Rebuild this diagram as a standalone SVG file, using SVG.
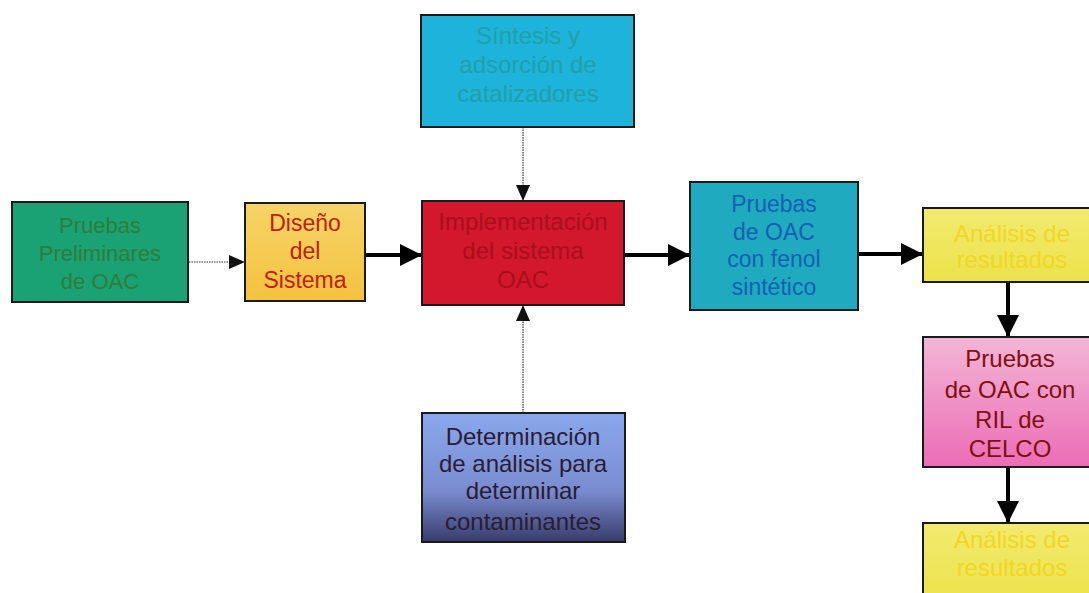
<svg xmlns="http://www.w3.org/2000/svg" width="1089" height="593" viewBox="0 0 1089 593">
<style>
.box{stroke:#1a1a1a;stroke-width:2}
.t{font-family:"Liberation Sans",Arial,sans-serif;font-size:24px;text-anchor:middle}
.thick{stroke:#000;stroke-width:4;fill:none}
.dot{stroke:#333;stroke-width:1.2;stroke-dasharray:1.5 1;fill:none}
</style>
<defs>
<marker id="big" markerUnits="userSpaceOnUse" markerWidth="22" markerHeight="22" refX="21" refY="11" orient="auto"><path d="M0,0 L22,11 L0,22 Z" fill="#000"/></marker>
<marker id="small" markerUnits="userSpaceOnUse" markerWidth="16" markerHeight="14" refX="15" refY="7" orient="auto"><path d="M0,0 L16,7 L0,14 Z" fill="#111"/></marker>
<linearGradient id="gYel" x1="0" y1="0" x2="0" y2="1"><stop offset="0" stop-color="#f6d468"/><stop offset="1" stop-color="#f4c23e"/></linearGradient>
<linearGradient id="gAn" x1="0" y1="0" x2="0" y2="1"><stop offset="0" stop-color="#f2ea70"/><stop offset="1" stop-color="#ece24a"/></linearGradient>
<linearGradient id="gPink" x1="0" y1="0" x2="0" y2="1"><stop offset="0" stop-color="#f3b6d6"/><stop offset="1" stop-color="#ec6cb6"/></linearGradient>
<linearGradient id="gBlue" x1="0" y1="0" x2="0" y2="1"><stop offset="0" stop-color="#8aa8ec"/><stop offset="0.6" stop-color="#7a8cd0"/><stop offset="1" stop-color="#383c6c"/></linearGradient>
</defs>

<g id="connectors">
<line class="dot" x1="189" y1="262" x2="244" y2="262" marker-end="url(#small)"/>
<line class="thick" x1="366" y1="255" x2="421" y2="255" marker-end="url(#big)"/>
<line class="dot" x1="523" y1="127" x2="523" y2="200" marker-end="url(#small)"/>
<line class="dot" x1="523" y1="413" x2="523" y2="306" marker-end="url(#small)"/>
<line class="thick" x1="625" y1="255" x2="689" y2="255" marker-end="url(#big)"/>
<line class="thick" x1="859" y1="254" x2="922" y2="254" marker-end="url(#big)"/>
<line class="thick" x1="1008" y1="283" x2="1008" y2="336" marker-end="url(#big)"/>
<line class="thick" x1="1008" y1="468" x2="1008" y2="522" marker-end="url(#big)"/>
</g>

<g id="n-preliminares">
<rect class="box" x="12" y="202" width="176" height="100" fill="#1aa274"/>
<text class="t" style="font-size:22px" fill="#2f7d3c"><tspan x="100" y="233">Pruebas</tspan><tspan x="100" y="261">Preliminares</tspan><tspan x="100" y="289">de OAC</tspan></text>
</g>

<g id="n-diseno">
<rect class="box" x="245" y="203" width="120" height="98" fill="url(#gYel)"/>
<text class="t" style="font-size:23px" fill="#c0200e"><tspan x="305" y="231">Diseño</tspan><tspan x="305" y="259">del</tspan><tspan x="305" y="288">Sistema</tspan></text>
</g>

<g id="n-sintesis">
<rect class="box" x="421" y="15" width="213" height="112" fill="#1db3da"/>
<text class="t" fill="#21a0a8"><tspan x="528" y="44">Síntesis y</tspan><tspan x="528" y="73">adsorción de</tspan><tspan x="528" y="102">catalizadores</tspan></text>
</g>

<g id="n-implementacion">
<rect class="box" x="422" y="201" width="202" height="104" fill="#d3172c"/>
<text class="t" fill="#a8101c"><tspan x="523" y="230">Implementación</tspan><tspan x="523" y="259">del sistema</tspan><tspan x="523" y="288">OAC</tspan></text>
</g>

<g id="n-determinacion">
<rect class="box" x="422" y="413" width="203" height="129" fill="url(#gBlue)"/>
<text class="t" fill="#2a1c34"><tspan x="523" y="445">Determinación</tspan><tspan x="523" y="472">de análisis para</tspan><tspan x="523" y="499">determinar</tspan><tspan x="523" y="530">contaminantes</tspan></text>
</g>

<g id="n-fenol">
<rect class="box" x="690" y="182" width="168" height="128" fill="#1faac0"/>
<text class="t" style="font-size:23px" fill="#1660b4"><tspan x="774" y="212">Pruebas</tspan><tspan x="774" y="240">de OAC</tspan><tspan x="774" y="267">con fenol</tspan><tspan x="774" y="295">sintético</tspan></text>
</g>

<g id="n-analisis1">
<rect class="box" x="923" y="208" width="180" height="74" fill="url(#gAn)"/>
<text class="t" fill="#f2d624"><tspan x="1012" y="242">Análisis de</tspan><tspan x="1012" y="268">resultados</tspan></text>
</g>

<g id="n-ril">
<rect class="box" x="923" y="337" width="180" height="130" fill="url(#gPink)"/>
<text class="t" fill="#7e1010"><tspan x="1010" y="367">Pruebas</tspan><tspan x="1010" y="398">de OAC con</tspan><tspan x="1010" y="428">RIL de</tspan><tspan x="1010" y="457">CELCO</tspan></text>
</g>

<g id="n-analisis2">
<rect class="box" x="923" y="523" width="180" height="80" fill="url(#gAn)"/>
<text class="t" fill="#f2d624"><tspan x="1012" y="548">Análisis de</tspan><tspan x="1012" y="576">resultados</tspan></text>
</g>
</svg>
